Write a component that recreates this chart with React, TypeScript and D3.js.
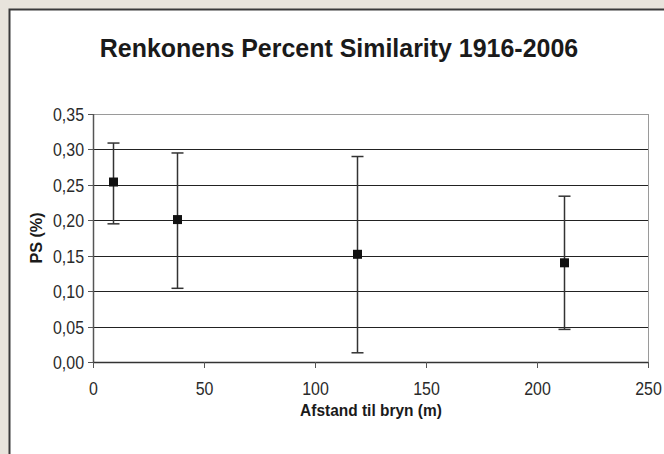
import React from 'react';
import * as d3 from 'd3';

// Data
const distances = [9, 38, 119, 212];
const psMean = [0.254, 0.201, 0.152, 0.14];
const psUpper = [0.309, 0.295, 0.29, 0.234];
const psLower = [0.195, 0.104, 0.013, 0.046];
const xTicks = [0, 50, 100, 150, 200, 250];
const yTicks = [0, 0.05, 0.1, 0.15, 0.2, 0.25, 0.3, 0.35];

const title = 'Renkonens Percent Similarity 1916-2006';
const xTitle = 'Afstand til bryn (m)';
const yTitle = 'PS (%)';

// narrow text, like the Arial Narrow look of the original
function NarrowText({ x, y, rotate = 0, sx = 0.84, anchor = 'middle', size, bold = false, fill = '#1a1a1a', children }: any) {
  return (
    <g transform={`translate(${x},${y}) rotate(${rotate}) scale(${sx},1)`}>
      <text textAnchor={anchor} fontSize={size} fontWeight={bold ? 'bold' : 'normal'} fill={fill}>
        {children}
      </text>
    </g>
  );
}

export default function App() {
  const width = 664;
  const height = 454;
  const plot = { left: 93, right: 648, top: 114, bottom: 362 };

  const x = d3.scaleLinear().domain([0, 250]).range([plot.left, plot.right]);
  const y = d3.scaleLinear().domain([0, 0.35]).range([plot.bottom, plot.top]);
  const fmt = (v: number) => d3.format('.2f')(v).replace('.', ',');

  const font = 'Arial, "Liberation Sans", sans-serif';
  const points = distances.map((d, i) => ({ d, m: psMean[i], hi: psUpper[i], lo: psLower[i] }));

  return (
    <svg
      width={width}
      height={height}
      style={{ position: 'fixed', left: 0, top: 0 }}
      fontFamily={font}
    >
      <rect x={0} y={0} width={width} height={height} fill="#e8e4dc" />
      <rect x={9.5} y={9.5} width={width + 20} height={height + 20} fill="#fff" stroke="#3a3a3a" strokeWidth={2} />

      <NarrowText x={339} y={57} size={26} sx={0.96} bold>{title}</NarrowText>

      {/* gridlines */}
      {yTicks.map(t => (
        <line key={'g' + t} x1={plot.left} x2={plot.right} y1={Math.round(y(t)) + 0.5} y2={Math.round(y(t)) + 0.5}
          stroke={t === 0.35 ? '#9a9a9a' : '#222'} strokeWidth={1} />
      ))}
      {/* plot border right */}
      <line x1={plot.right + 0.5} x2={plot.right + 0.5} y1={plot.top} y2={plot.bottom} stroke="#9a9a9a" />

      {/* y axis */}
      <line x1={plot.left + 0.5} x2={plot.left + 0.5} y1={plot.top} y2={plot.bottom + 1} stroke="#555" strokeWidth={1.5} />
      {yTicks.map(t => (
        <g key={'y' + t}>
          <line x1={plot.left - 5} x2={plot.left} y1={Math.round(y(t)) + 0.5} y2={Math.round(y(t)) + 0.5} stroke="#555" />
          <NarrowText x={plot.left - 9} y={Math.round(y(t)) + 7} anchor="end" size={19} fill="#2a2a2a">{fmt(t)}</NarrowText>
        </g>
      ))}

      {/* x axis */}
      <line x1={plot.left} x2={plot.right} y1={plot.bottom + 0.5} y2={plot.bottom + 0.5} stroke="#333" strokeWidth={1.5} />
      {xTicks.map(t => (
        <g key={'x' + t}>
          <line x1={Math.round(x(t)) + 0.5} x2={Math.round(x(t)) + 0.5} y1={plot.bottom} y2={plot.bottom + 6} stroke="#555" />
          <NarrowText x={Math.round(x(t)) + 0.5} y={plot.bottom + 33} size={19} fill="#2a2a2a">{t}</NarrowText>
        </g>
      ))}

      <NarrowText x={371} y={416} size={17} sx={0.91} bold>{xTitle}</NarrowText>
      <NarrowText x={42} y={(plot.top + plot.bottom) / 2} rotate={-90} size={17} sx={0.95} bold>{yTitle}</NarrowText>

      {/* error bars and markers */}
      {points.map(p => {
        const cx = Math.round(x(p.d)) + 0.5;
        return (
          <g key={'p' + p.d}>
            <line x1={cx} x2={cx} y1={y(p.hi)} y2={y(p.lo)} stroke="#333" strokeWidth={1.5} />
            <line x1={cx - 6} x2={cx + 6} y1={y(p.hi)} y2={y(p.hi)} stroke="#333" strokeWidth={1.5} />
            <line x1={cx - 6} x2={cx + 6} y1={y(p.lo)} y2={y(p.lo)} stroke="#333" strokeWidth={1.5} />
            <rect x={cx - 4.5} y={y(p.m) - 4.5} width={9} height={9} fill="#111" />
          </g>
        );
      })}
    </svg>
  );
}
